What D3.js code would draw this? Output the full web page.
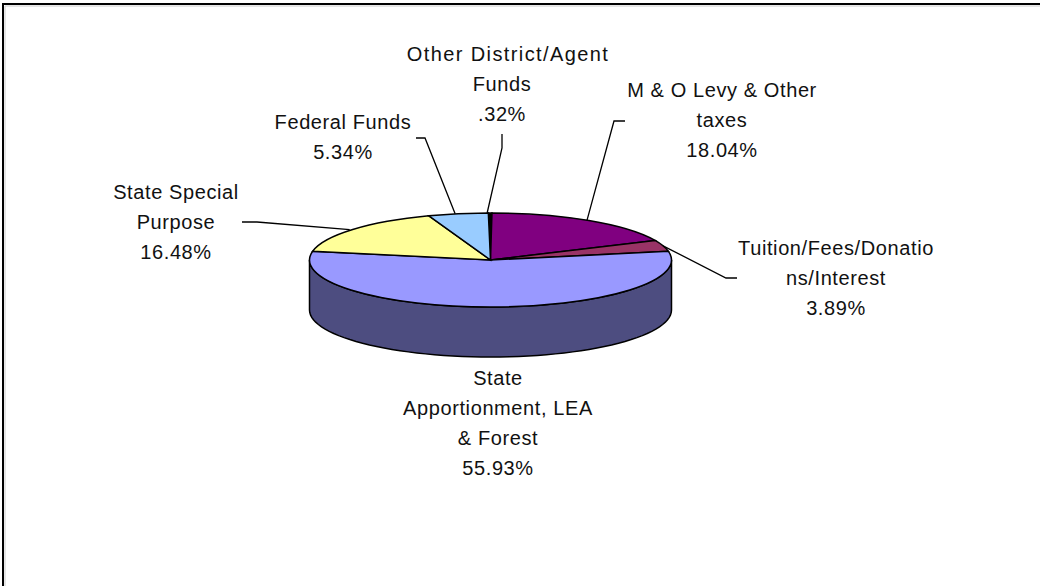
<!DOCTYPE html>
<html><head><meta charset="utf-8">
<script src="https://cdn.jsdelivr.net/npm/d3@7"></script>
<style>html,body{margin:0;padding:0;background:#fff}svg{display:block}
text{font-family:"Liberation Sans",Arial,sans-serif;font-size:20px;letter-spacing:.6px;fill:#111;text-anchor:middle}</style>
</head><body><svg id="c" width="1040" height="586"></svg>
<script>
const categories=["Other District/Agent Funds","M & O Levy & Other taxes","Tuition/Fees/Donations/Interest","State Apportionment, LEA & Forest","State Special Purpose","Federal Funds"];
const values=[0.32,18.04,3.89,55.93,16.48,5.34];
const percentLabels=[".32%","18.04%","3.89%","55.93%","16.48%","5.34%"];
const labelLines=[["Other District/Agent","Funds"],["M & O Levy & Other","taxes"],["Tuition/Fees/Donatio","ns/Interest"],["State","Apportionment, LEA","& Forest"],["State Special","Purpose"],["Federal Funds"]];
const colors=["#000000","#800080","#993366","#9999FF","#FFFF99","#99CCFF"];
const labelX=[502,722,836,498,176,343];
const labelY=[61,97,255,385,199,129];
const firstLineShift=[6,0,0,0,0,0];
const firstLineSpacing=[1.4,0.6,0.6,0.6,0.6,0.6];
const elbows=[[[502,134],[502,148]],[[625,121],[614,121]],[[737,278],[726,278]],null,[[242,222],[257,222]],[[416,138],[425,138]]];
const anchorShift=[-3,-2,0,0,-3,-3];
const cx=490.5,cy=260,rx=181,ry=47,depth=50,wallColor="#4D4D80",startAngle=-0.012;

const svg=d3.select("#c");
svg.append("path").attr("d","M3 586V4H1040").attr("fill","none").attr("stroke","#000").attr("stroke-width",2);
svg.append("path").attr("d","M5 586V6H1040").attr("fill","none").attr("stroke","#ccc").attr("stroke-width",1);

const arcs=d3.pie().sort(null).startAngle(startAngle).endAngle(startAngle+2*Math.PI)(values);
const px=d3.scaleLinear().domain([0,1]).range([cx,cx+rx]);
const py=d3.scaleLinear().domain([0,1]).range([cy,cy-ry]);
const pt=(a,dy=0)=>[px(Math.sin(a)),py(Math.cos(a))+dy];

// front wall
const wa=d3.range(90,270.5,3).map(d=>d*Math.PI/180);
const wall=[...wa.map(a=>pt(a)),...wa.slice().reverse().map(a=>pt(a,depth))];
svg.append("path").attr("d",d3.line()(wall)+"Z").attr("fill",wallColor).attr("stroke","#000").attr("stroke-width",1.5);

// top slices
const arcG=svg.append("g").attr("transform",`translate(${cx},${cy}) scale(1,${ry/rx})`);
const arc=d3.arc().innerRadius(0).outerRadius(rx);
arcG.selectAll("path").data(arcs).join("path").attr("d",arc).attr("fill",(d,i)=>colors[i])
  .attr("stroke","#000").attr("stroke-width",1.5).attr("vector-effect","non-scaling-stroke");

// leaders
arcs.forEach((d,i)=>{
  if(!elbows[i])return;
  const m=pt((d.startAngle+d.endAngle)/2);
  svg.append("path").attr("d",d3.line()([...elbows[i],[m[0]+anchorShift[i],m[1]]])).attr("fill","none").attr("stroke","#000").attr("stroke-width",1.3);
});

// labels
categories.forEach((c,i)=>{
  const lines=[...labelLines[i],percentLabels[i]];
  const t=svg.append("text");
  t.selectAll("tspan").data(lines).join("tspan")
    .attr("x",(d,j)=>labelX[i]+(j===0?firstLineShift[i]:0))
    .attr("y",(d,j)=>labelY[i]+j*30)
    .style("letter-spacing",(d,j)=>(j===0?firstLineSpacing[i]:0.6)+"px")
    .text(d=>d);
});
</script></body></html>
